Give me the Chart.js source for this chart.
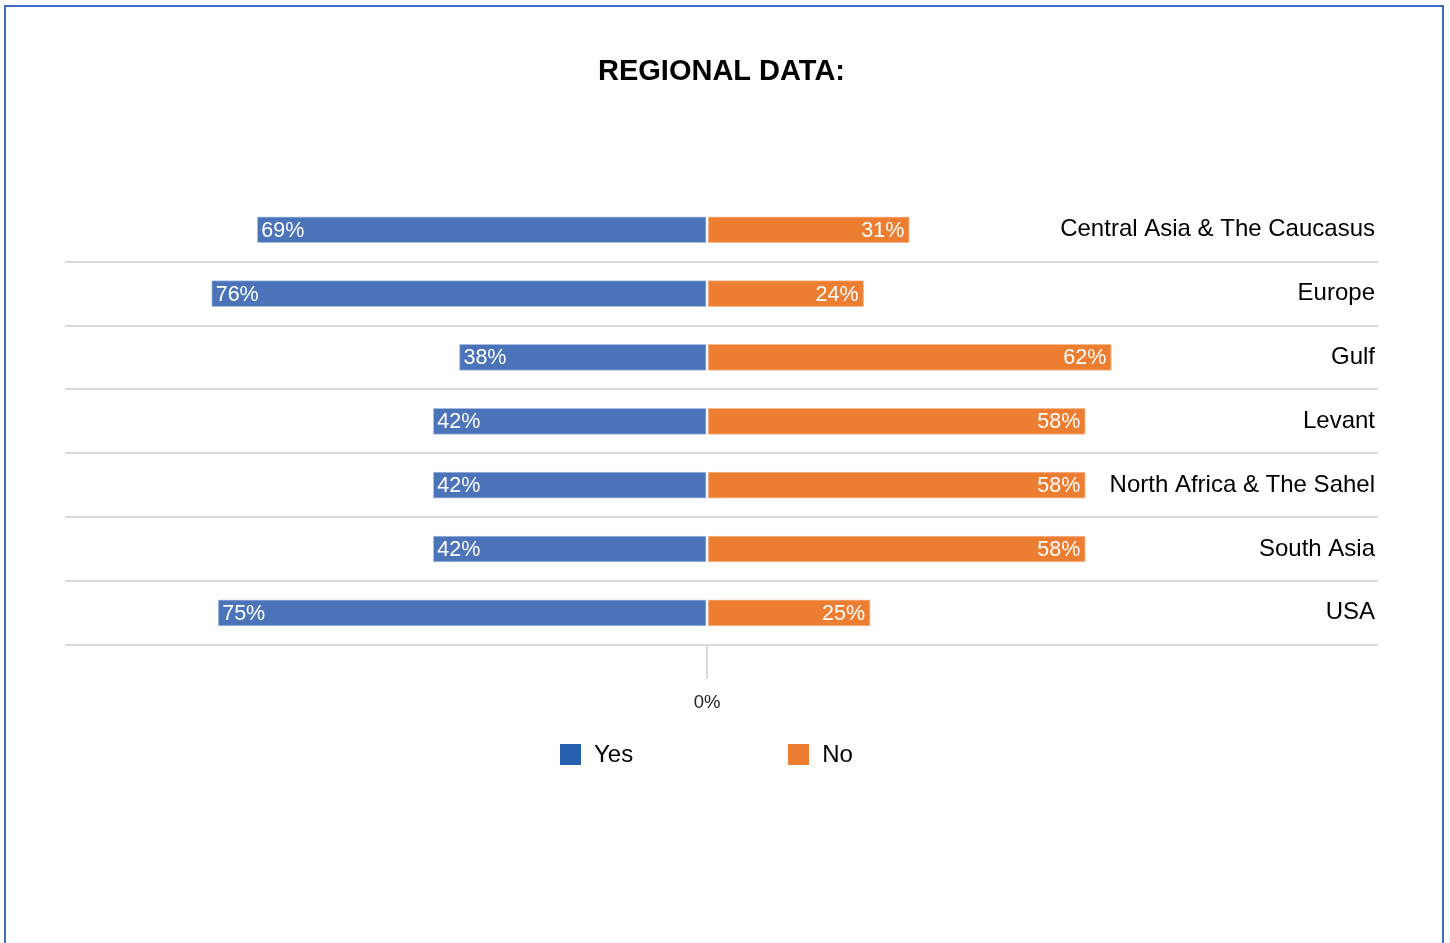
<!DOCTYPE html>
<html>
<head>
<meta charset="utf-8">
<title>Regional data</title>
<script src="https://cdn.jsdelivr.net/npm/chart.js@4.4.1/dist/chart.umd.min.js"></script>
<style>
  html, body { margin: 0; padding: 0; background: #fff; overflow: hidden; }
  body { width: 1450px; height: 943px; position: relative; font-family: "Liberation Sans", Arial, sans-serif; }
  #frame {
    position: absolute; left: 4px; top: 5px; width: 1440px; height: 980px;
    box-sizing: border-box; border: 2px solid #3a6cc4; border-bottom: none;
  }
  #wrap { position: absolute; left: 0; top: 0; width: 1450px; height: 943px; }
  #legend { position: absolute; left: 560px; top: 740px; display: flex; align-items: center; }
  .item { display: flex; align-items: center; font-size: 24px; color: #000; }
  .item + .item { margin-left: 155px; }
  .box { width: 21px; height: 21px; margin-right: 13px; }
</style>
</head>
<body>
<div id="frame"></div>
<div id="wrap"><canvas id="regionChart" width="1450" height="943"></canvas></div>
<div id="legend"></div>
<script>
// 地域ごとのデータ
const categories = [
  "Central Asia & The Caucasus",
  "Europe",
  "Gulf",
  "Levant",
  "North Africa & The Sahel",
  "South Asia",
  "USA"
];
const yesValues = [69, 76, 38, 42, 42, 42, 75];
const noValues = [31, 24, 62, 58, 58, 58, 25];
const seriesNames = ["Yes", "No"];
const xTicks = [0];

const FONT = '"Liberation Sans", Arial, sans-serif';
const barColors = ["#4a73b9", "#ed7d31"];
const barEdges = ["#a9bde3", "#f6bc94"];
const legendColors = ["#2860b0", "#ed7d31"];

// バーの中に % を描く
const barLabels = {
  id: "barLabels",
  afterDatasetsDraw(chart) {
    const ctx = chart.ctx;
    ctx.save();
    ctx.font = "21.5px " + FONT;
    ctx.fillStyle = "#fff";
    ctx.textBaseline = "middle";
    chart.data.datasets.forEach((ds, i) => {
      chart.getDatasetMeta(i).data.forEach((bar, j) => {
        const v = ds.data[j];
        const left = Math.min(bar.x, bar.base);
        const right = Math.max(bar.x, bar.base);
        if (v < 0) {
          ctx.textAlign = "left";
          ctx.fillText(Math.abs(v) + "%", left + 4, bar.y + 1);
        } else {
          ctx.textAlign = "right";
          ctx.fillText(v + "%", right - 5, bar.y + 1);
        }
      });
    });
    ctx.restore();
  }
};

const chart = new Chart(document.getElementById("regionChart"), {
  type: "bar",
  data: {
    labels: categories,
    datasets: [
      {
        label: seriesNames[0],
        data: yesValues.map(v => -v),
        backgroundColor: barColors[0],
        borderColor: barEdges[0],
        borderWidth: 1,
        borderSkipped: false,
        barThickness: 26
      },
      {
        label: seriesNames[1],
        data: noValues,
        backgroundColor: barColors[1],
        borderColor: barEdges[1],
        borderWidth: 1,
        borderSkipped: false,
        barThickness: 26
      }
    ]
  },
  options: {
    indexAxis: "y",
    responsive: false,
    animation: false,
    layout: { padding: { left: 65, right: 72, top: 0, bottom: 216 } },
    scales: {
      x: {
        stacked: true,
        min: -98.5,
        max: 102.9,
        afterBuildTicks: axis => { axis.ticks = xTicks.map(v => ({ value: v })); },
        grid: { drawOnChartArea: false, drawTicks: true, tickLength: 34, color: "#d9d9d9", lineWidth: 2 },
        border: { display: false },
        ticks: {
          padding: 13,
          color: "#222",
          font: { family: FONT, size: 18.5 },
          callback: v => v + "%"
        }
      },
      y: {
        stacked: true,
        position: "right",
        offset: true,
        grid: {
          offset: true,
          drawTicks: false,
          lineWidth: 2,
          color: ctx => ctx.index === 0 ? "rgba(0,0,0,0)" : "#d9d9d9"
        },
        border: { display: false },
        ticks: {
          mirror: true,
          padding: -3,
          color: "#000",
          font: { family: FONT, size: 24 }
        }
      }
    },
    plugins: {
      title: {
        display: true,
        text: "REGIONAL DATA:",
        color: "#000",
        font: { family: FONT, size: 29, weight: "bold" },
        padding: { top: 55, bottom: 108 }
      },
      legend: { display: false },
      tooltip: { enabled: false }
    }
  },
  plugins: [barLabels]
});

// 凡例（HTML）
const legend = document.getElementById("legend");
seriesNames.forEach((name, i) => {
  const item = document.createElement("div");
  item.className = "item";
  item.innerHTML = '<span class="box" style="background:' + legendColors[i] + '"></span>' + name;
  legend.appendChild(item);
});
</script>
</body>
</html>
